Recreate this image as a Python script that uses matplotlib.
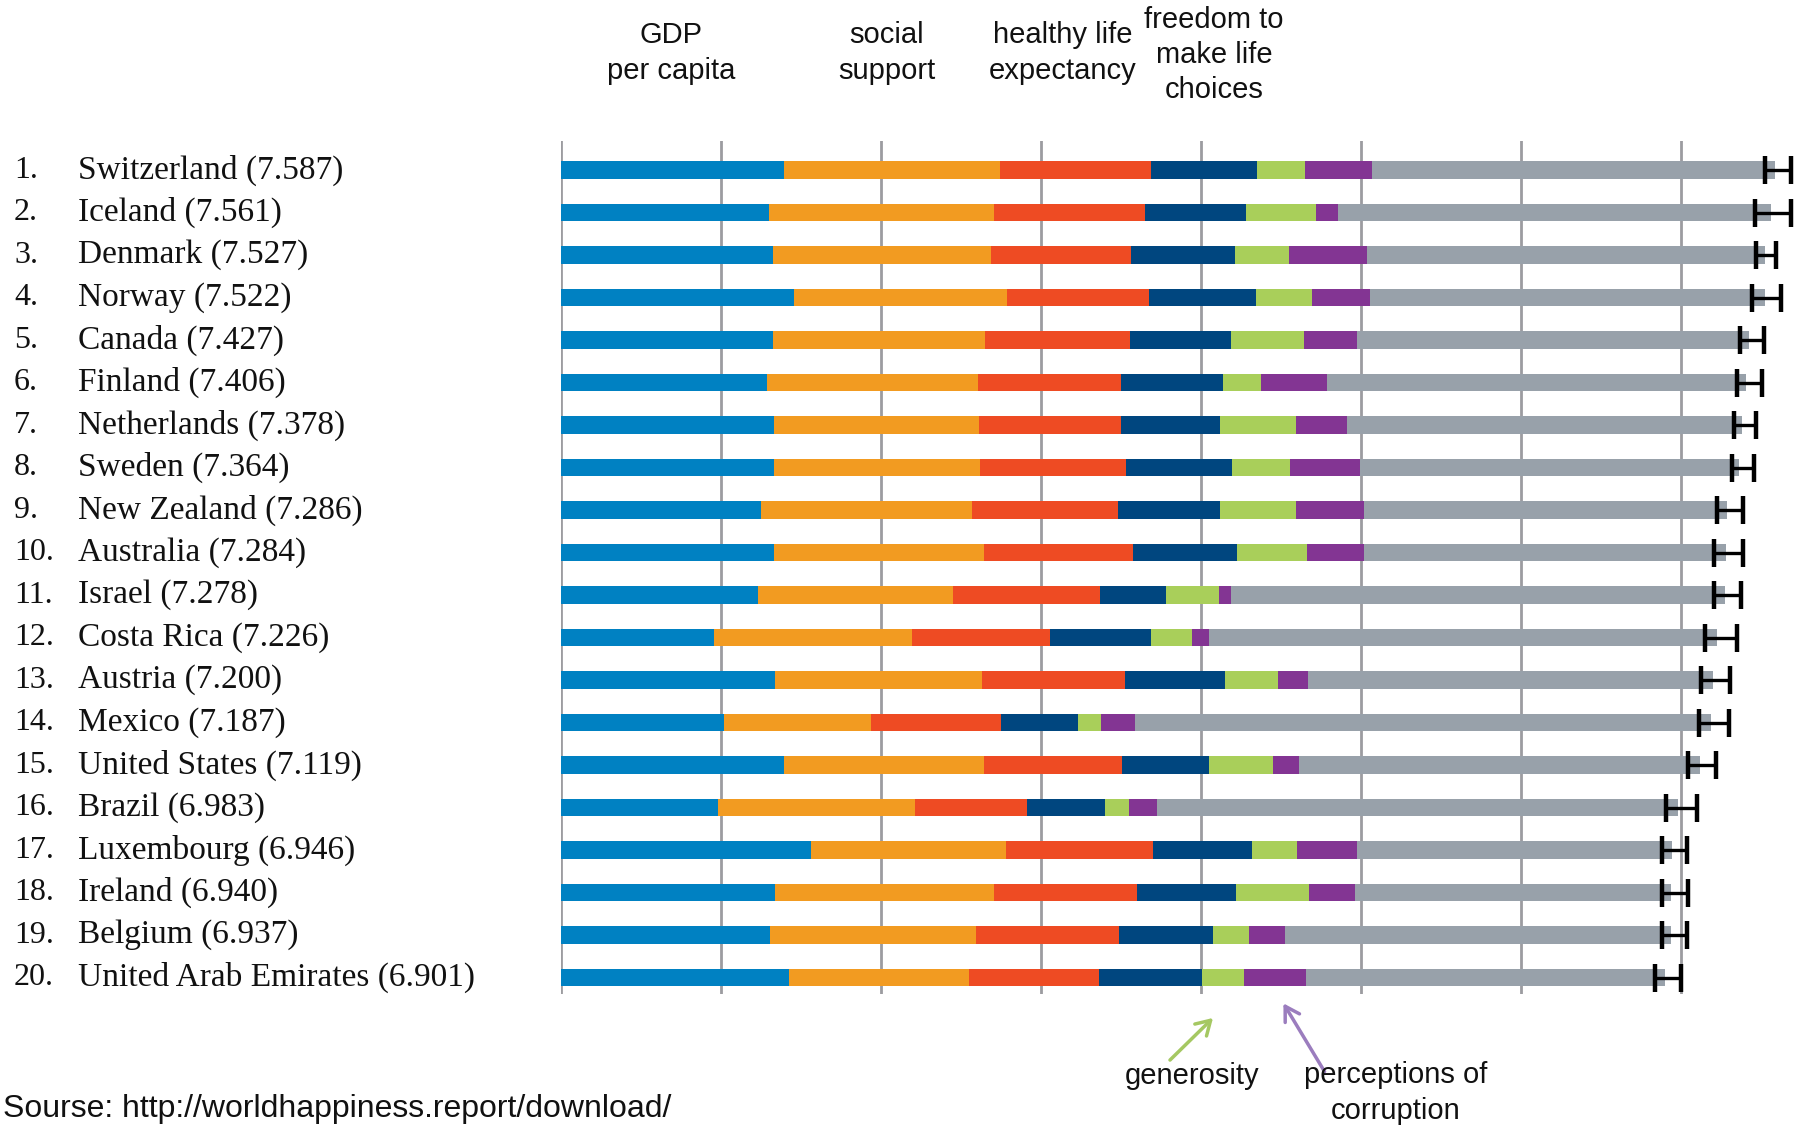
import matplotlib
matplotlib.use("Agg")
import matplotlib.pyplot as plt
import matplotlib.transforms as mtransforms
from matplotlib.patches import FancyArrowPatch
import numpy as np

countries = ["Switzerland", "Iceland", "Denmark", "Norway", "Canada", "Finland",
             "Netherlands", "Sweden", "New Zealand", "Australia", "Israel",
             "Costa Rica", "Austria", "Mexico", "United States", "Brazil",
             "Luxembourg", "Ireland", "Belgium", "United Arab Emirates"]
scores = [7.587, 7.561, 7.527, 7.522, 7.427, 7.406, 7.378, 7.364, 7.286, 7.284,
          7.278, 7.226, 7.200, 7.187, 7.119, 6.983, 6.946, 6.940, 6.937, 6.901]

gdp = [1.39651, 1.30232, 1.32548, 1.45900, 1.32629, 1.29025, 1.32944, 1.33171, 1.25018, 1.33358,
       1.22857, 0.95578, 1.33723, 1.02054, 1.39451, 0.98124, 1.56391, 1.33596, 1.30782, 1.42727]
social = [1.34951, 1.40223, 1.36058, 1.33095, 1.32261, 1.31826, 1.28017, 1.28907, 1.31967, 1.30923,
          1.22393, 1.23788, 1.29704, 0.91451, 1.24711, 1.23287, 1.21963, 1.36948, 1.28566, 1.12575]
health = [0.94143, 0.94784, 0.87464, 0.88521, 0.90563, 0.88911, 0.89284, 0.91087, 0.90837, 0.93156,
          0.91387, 0.86027, 0.89042, 0.81444, 0.86179, 0.69702, 0.91894, 0.89533, 0.89667, 0.80925]
freedom = [0.66557, 0.62877, 0.64938, 0.66973, 0.63297, 0.64169, 0.61576, 0.65980, 0.63938, 0.65124,
           0.41319, 0.63376, 0.62433, 0.48181, 0.54604, 0.49049, 0.61583, 0.61777, 0.58450, 0.64157]
generosity = [0.29678, 0.43630, 0.34139, 0.34699, 0.45811, 0.23351, 0.47610, 0.36262, 0.47501, 0.43562,
              0.33172, 0.25497, 0.33088, 0.14074, 0.40105, 0.14574, 0.28034, 0.45901, 0.22230, 0.26428]
corruption = [0.41978, 0.14145, 0.48357, 0.36503, 0.32957, 0.41372, 0.31814, 0.43844, 0.42922, 0.35637,
              0.07785, 0.10583, 0.18676, 0.21312, 0.15890, 0.17521, 0.37798, 0.28703, 0.22540, 0.38583]
dystopia = [2.51738, 2.70201, 2.49204, 2.46531, 2.45176, 2.61955, 2.46570, 2.37119, 2.26425, 2.26646,
            3.08854, 3.17728, 2.53320, 3.60214, 2.51011, 3.26001, 1.96961, 1.97570, 2.41484, 2.24743]

ci_low = [7.525, 7.465, 7.469, 7.443, 7.366, 7.350, 7.332, 7.321, 7.228, 7.205,
          7.209, 7.149, 7.127, 7.114, 7.046, 6.906, 6.881, 6.879, 6.881, 6.840]
ci_high = [7.685, 7.690, 7.593, 7.625, 7.520, 7.504, 7.467, 7.454, 7.388, 7.388,
           7.372, 7.347, 7.308, 7.301, 7.221, 7.097, 7.037, 7.042, 7.037, 7.003]

components = [gdp, social, health, freedom, generosity, corruption, dystopia]
colors = ["#0081C2", "#F29B21", "#EE4B23", "#00467F", "#A9CF5A", "#833593", "#98A1AA"]

W, H = 1800, 1126
fig = plt.figure(figsize=(W / 100, H / 100), dpi=100)
fig.patch.set_facecolor("white")

x0_px, unit_px = 561, 160
top_px, bot_px = 141, 994
row0_px, row_step = 170, 42.5
ax_w_px = W - x0_px
ax = fig.add_axes([x0_px / W, 1 - bot_px / H, ax_w_px / W, (bot_px - top_px) / H])
ax.set_xlim(0, ax_w_px / unit_px)
n = len(countries)
ax.set_ylim(n - 1 + (bot_px - (row0_px + row_step * (n - 1))) / row_step,
            -(row0_px - top_px) / row_step)
ax.axis("off")

for g in range(0, 8):
    ax.axvline(g, color="#9C9CA0", lw=2.0, zorder=0)

y = np.arange(n)
left = np.zeros(n)
for vals, col in zip(components, colors):
    v = np.array(vals)
    ax.barh(y, v, left=left, height=0.42, color=col, linewidth=0, zorder=2)
    left += v

sc = np.array(scores)
xerr = [sc - np.array(ci_low), np.array(ci_high) - sc]
ax.errorbar(sc, y, xerr=xerr, fmt="none", ecolor="black", elinewidth=2.4,
            capsize=10, capthick=3.2, zorder=4, clip_on=False)

trans = mtransforms.blended_transform_factory(fig.transFigure, ax.transData)
for i, (c, s) in enumerate(zip(countries, scores)):
    ax.text(14 / W, i, f"{i + 1}.", transform=trans, ha="left", va="center",
            fontsize=23, family="Liberation Serif", color="#111111")
    ax.text(78 / W, i, f"{c} ({s:.3f})", transform=trans, ha="left", va="center",
            fontsize=24, family="Liberation Serif", color="#111111")

def ftext(x, yp, s, ls=1.38):
    fig.text(x / W, 1 - yp / H, s, ha="center", va="center", fontsize=21,
             family="Liberation Sans", color="#111111", linespacing=ls)

ftext(671, 53, "GDP\nper capita")
ftext(887, 53, "social\nsupport")
ftext(1063, 53, "healthy life\nexpectancy")
ftext(1214, 55, "freedom to\nmake life\nchoices", ls=1.33)
ftext(1192, 1076, "generosity")
ftext(1396, 1093, "perceptions of\ncorruption")

fig.text(3 / W, 1 - 1109 / H, "Sourse: http://worldhappiness.report/download/",
         ha="left", va="center", fontsize=23, family="Liberation Sans", color="#111111")

def farrow(p0, p1, col):
    a = FancyArrowPatch((p0[0] / W, 1 - p0[1] / H), (p1[0] / W, 1 - p1[1] / H),
                        transform=fig.transFigure, arrowstyle="->,head_length=10,head_width=6",
                        color=col, lw=2.5, mutation_scale=1)
    fig.add_artist(a)

farrow((1168, 1062), (1215, 1016), "#A5C862")
farrow((1326, 1074), (1282, 1001), "#9B7DBE")

fig.savefig("out.png", dpi=100, facecolor="white")
